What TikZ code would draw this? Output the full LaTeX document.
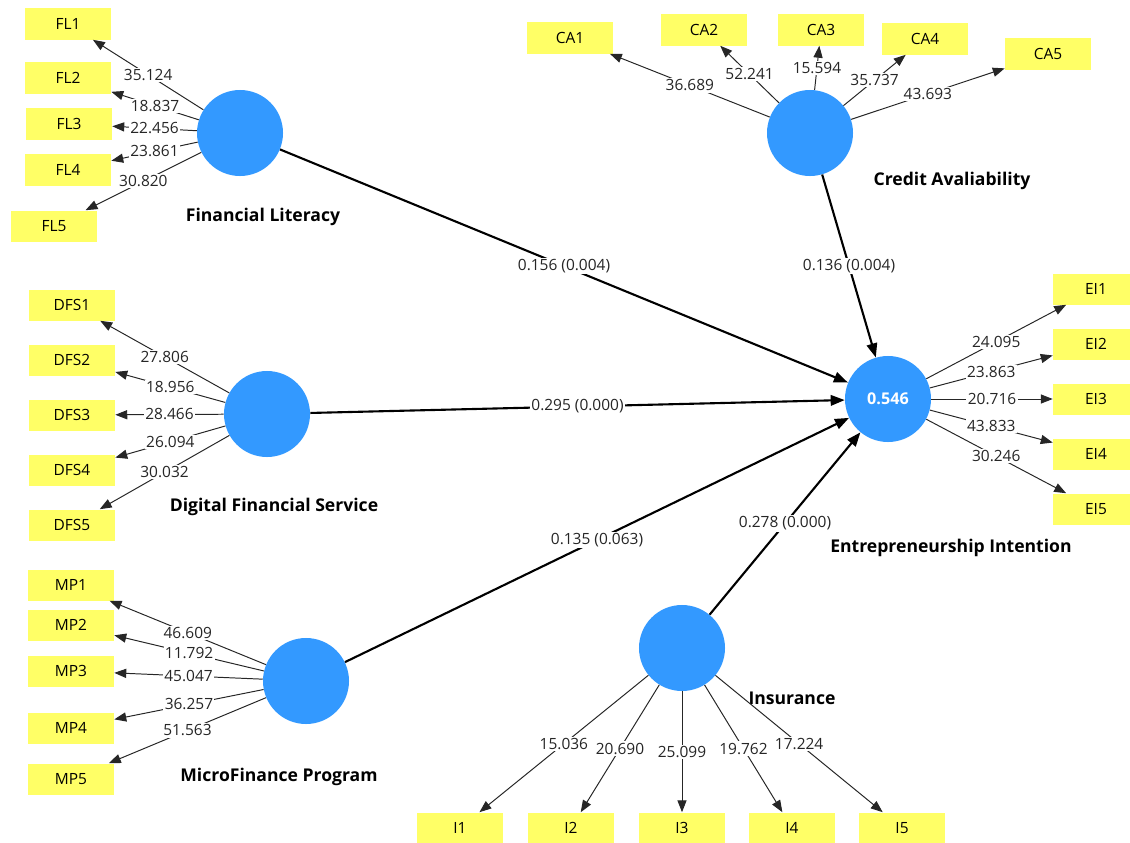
\documentclass[tikz,border=0pt]{standalone}
\usepackage{fontspec}
\setmainfont{Open Sans}
\usepackage{tikz}
\usetikzlibrary{arrows.meta,positioning}
\definecolor{lvblue}{RGB}{51,153,255}
\definecolor{mvyellow}{RGB}{255,255,102}

\begin{document}
\begin{tikzpicture}[x=0.025cm, y=-0.025cm]
        \tikzset{
            latent/.style={circle, fill=lvblue, minimum size=2.15cm, inner sep=0pt, text=white, font=\bfseries\fontsize{11.5}{13}\selectfont},
            item/.style={rectangle, fill=mvyellow, minimum width=2.15cm, minimum height=0.775cm, inner sep=0pt, font=\fontsize{11}{13}\selectfont},
            lname/.style={font=\bfseries\fontsize{12.5}{14}\selectfont},
            load/.style={-{Triangle[length=8.5pt, width=6.5pt]}, line width=0.7pt, draw=black!85},
            coef/.style={-{Triangle[length=10pt, width=7.5pt]}, line width=1.5pt},
            val/.style={fill=white, inner sep=1pt, text=black!85, font=\fontsize{11}{13}\selectfont},
        }
        \useasboundingbox (0,0) rectangle (1130,842);

        % Constructs
        \node [latent] (fl) at (240,133) {};
        \node [latent] (ca) at (810,133) {};
        \node [latent] (dfs) at (267,414) {};
        \node [latent] (mp) at (306,681) {};
        \node [latent] (ei) at (888,399) {0.546};
        \node [latent] (ins) at (682,648) {};

        % Construct names
        \node [lname] (flname) at (263,217) {Financial Literacy};
        \node [lname] (caname) at (952,181) {Credit Avaliability};
        \node [lname] (dfsname) at (274,507) {Digital Financial Service};
        \node [lname] (mpname) at (279,777) {MicroFinance Program};
        \node [lname] (einame) at (951,548) {Entrepreneurship Intention};
        \node [lname] (insname) at (792,698) {Insurance};

        % Financial Literacy items
        \node [item] (fl1) at (68,24) {FL1};
        \node [item] (fl2) at (68,78) {FL2};
        \node [item] (fl3) at (69,124) {FL3};
        \node [item] (fl4) at (68,170) {FL4};
        \node [item] (fl5) at (54,226) {FL5};

        % Credit Avaliability items
        \node [item] (ca1) at (570,38) {CA1};
        \node [item] (ca2) at (704,30) {CA2};
        \node [item] (ca3) at (821,30) {CA3};
        \node [item] (ca4) at (925,39) {CA4};
        \node [item] (ca5) at (1048,54) {CA5};

        % Digital Financial Service items
        \node [item] (dfs1) at (72,305) {DFS1};
        \node [item] (dfs2) at (72,360) {DFS2};
        \node [item] (dfs3) at (72,415) {DFS3};
        \node [item] (dfs4) at (72,470) {DFS4};
        \node [item] (dfs5) at (72,525) {DFS5};

        % MicroFinance Program items
        \node [item] (mp1) at (71,585) {MP1};
        \node [item] (mp2) at (71,625) {MP2};
        \node [item] (mp3) at (71,671) {MP3};
        \node [item] (mp4) at (71,728) {MP4};
        \node [item] (mp5) at (71,779) {MP5};

        % Entrepreneurship Intention items
        \node [item] (ei1) at (1096,289) {EI1};
        \node [item] (ei2) at (1096,344) {EI2};
        \node [item] (ei3) at (1096,399) {EI3};
        \node [item] (ei4) at (1096,454) {EI4};
        \node [item] (ei5) at (1096,509) {EI5};

        % Insurance items
        \node [item] (i1) at (460,828) {I1};
        \node [item] (i2) at (571,828) {I2};
        \node [item] (i3) at (682,828) {I3};
        \node [item] (i4) at (792,828) {I4};
        \node [item] (i5) at (902,828) {I5};

        % Loadings
        \draw [load] (fl) -- node [val, midway] {35.124} (fl1);
        \draw [load] (fl) -- node [val, midway] {18.837} (fl2);
        \draw [load] (fl) -- node [val, midway] {22.456} (fl3);
        \draw [load] (fl) -- node [val, midway] {23.861} (fl4);
        \draw [load] (fl) -- node [val, midway] {30.820} (fl5);

        \draw [load] (ca) -- node [val, midway] {36.689} (ca1);
        \draw [load] (ca) -- node [val, midway] {52.241} (ca2);
        \draw [load] (ca) -- node [val, midway] {15.594} (ca3);
        \draw [load] (ca) -- node [val, midway] {35.737} (ca4);
        \draw [load] (ca) -- node [val, midway] {43.693} (ca5);

        \draw [load] (dfs) -- node [val, midway] {27.806} (dfs1);
        \draw [load] (dfs) -- node [val, midway] {18.956} (dfs2);
        \draw [load] (dfs) -- node [val, midway] {28.466} (dfs3);
        \draw [load] (dfs) -- node [val, midway] {26.094} (dfs4);
        \draw [load] (dfs) -- node [val, midway] {30.032} (dfs5);

        \draw [load] (mp) -- node [val, midway] {46.609} (mp1);
        \draw [load] (mp) -- node [val, midway] {11.792} (mp2);
        \draw [load] (mp) -- node [val, midway] {45.047} (mp3);
        \draw [load] (mp) -- node [val, midway] {36.257} (mp4);
        \draw [load] (mp) -- node [val, midway] {51.563} (mp5);

        \draw [load] (ei) -- node [val, midway] {24.095} (ei1);
        \draw [load] (ei) -- node [val, midway] {23.863} (ei2);
        \draw [load] (ei) -- node [val, midway] {20.716} (ei3);
        \draw [load] (ei) -- node [val, midway] {43.833} (ei4);
        \draw [load] (ei) -- node [val, midway] {30.246} (ei5);

        \draw [load] (ins) -- node [val, midway] {15.036} (i1);
        \draw [load] (ins) -- node [val, midway] {20.690} (i2);
        \draw [load] (ins) -- node [val, midway] {25.099} (i3);
        \draw [load] (ins) -- node [val, midway] {19.762} (i4);
        \draw [load] (ins) -- node [val, midway] {17.224} (i5);

        % Path coefficients
        \draw [coef] (fl) -- node [val, midway] {0.156 (0.004)} (ei);
        \draw [coef] (ca) -- node [val, midway] {0.136 (0.004)} (ei);
        \draw [coef] (dfs) -- node [val, midway] {0.295 (0.000)} (ei);
        \draw [coef] (mp) -- node [val, midway] {0.135 (0.063)} (ei);
        \draw [coef] (ins) -- node [val, midway] {0.278 (0.000)} (ei);
    \end{tikzpicture}
\end{document}
